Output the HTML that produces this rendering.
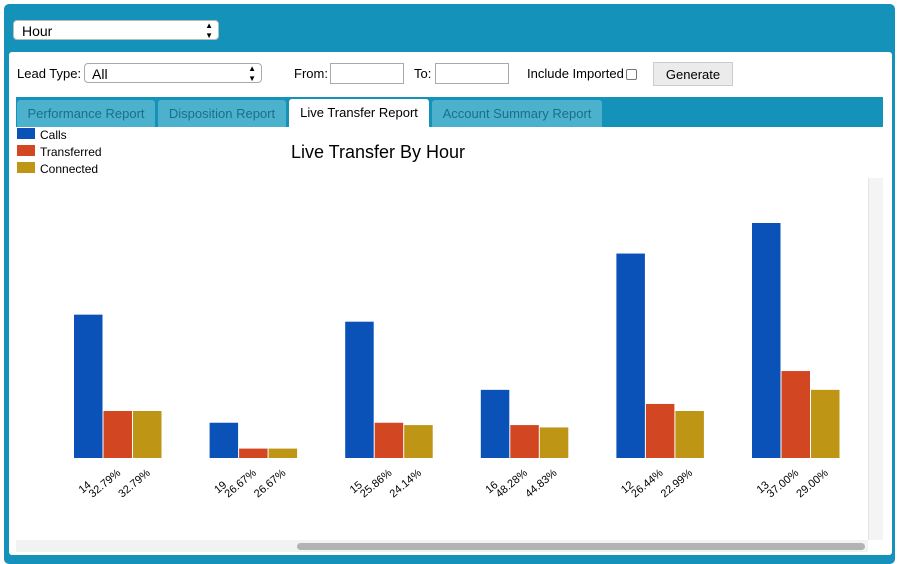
<!DOCTYPE html>
<html><head><meta charset="utf-8"><style>
body{margin:0;width:899px;height:555px;overflow:hidden;background:#fff;font-family:"Liberation Sans",Arial,sans-serif;font-size:13px;color:#000}
.abs{position:absolute}
</style></head><body>
<div class="abs" style="left:4px;top:4px;width:891px;height:560px;background:#1592ba;border-radius:5px"></div>
<div class="abs" style="left:13px;top:20px;width:206px;height:20px;background:#fff;border:1px solid #bbb;border-radius:4px;font-size:14px;line-height:20px;padding-left:8px;box-sizing:border-box">Hour<span style="position:absolute;right:5px;top:0;font-size:8px;line-height:10px">▲<br>▼</span></div>
<div class="abs" style="left:9px;top:52px;width:883px;height:503px;background:#fff;border-radius:3px"></div>
<div class="abs" style="left:17px;top:66px">Lead Type:</div>
<div class="abs" style="left:84px;top:63px;width:178px;height:20px;border:1px solid #aaa;border-radius:4px;font-size:14px;line-height:20px;padding-left:7px;box-sizing:border-box">All<span style="position:absolute;right:5px;top:0;font-size:8px;line-height:10px">▲<br>▼</span></div>
<div class="abs" style="left:294px;top:66px">From:</div>
<div class="abs" style="left:330px;top:63px;width:74px;height:21px;border:1px solid #aaa;box-sizing:border-box"></div>
<div class="abs" style="left:414px;top:66px">To:</div>
<div class="abs" style="left:435px;top:63px;width:74px;height:21px;border:1px solid #aaa;box-sizing:border-box"></div>
<div class="abs" style="left:527px;top:66px">Include Imported</div>
<div class="abs" style="left:626px;top:69px;width:9px;height:9px;border:1px solid #777;border-radius:2px"></div>
<div class="abs" style="left:653px;top:62px;width:80px;height:24px;background:#ebebeb;border:1px solid #ccc;box-sizing:border-box;text-align:center;line-height:23px">Generate</div>
<div class="abs" style="left:16px;top:97px;width:867px;height:30px;background:#1592ba"></div>
<div class="abs" style="left:17px;top:100px;width:138px;height:27px;background:#4cb1cc;color:#1a6f8c;text-align:center;line-height:27px;border-radius:3px 3px 0 0">Performance Report</div>
<div class="abs" style="left:158px;top:100px;width:128px;height:27px;background:#4cb1cc;color:#1a6f8c;text-align:center;line-height:27px;border-radius:3px 3px 0 0">Disposition Report</div>
<div class="abs" style="left:289px;top:99px;width:140px;height:29px;background:#fff;text-align:center;line-height:27px;border-radius:3px 3px 0 0">Live Transfer Report</div>
<div class="abs" style="left:432px;top:100px;width:170px;height:27px;background:#4cb1cc;color:#1a6f8c;text-align:center;line-height:27px;border-radius:3px 3px 0 0">Account Summary Report</div>
<div class="abs" style="left:868px;top:178px;width:14px;height:362px;background:#f4f4f4;border-left:1px solid #e4e4e4"></div>
<div class="abs" style="left:16px;top:540px;width:852px;height:12px;background:#f2f2f2"></div>
<div class="abs" style="left:297px;top:543px;width:568px;height:7px;background:#b3b3b3;border-radius:4px"></div>
<svg class="abs" style="left:0;top:0" width="899" height="555">
<g id="legend"></g>
<text x="378" y="158" text-anchor="middle" font-size="18">Live Transfer By Hour</text>
<g id="bars"></g>
</svg>
<script>
const hours=["14","19","15","16","12","13"];
const calls=[61,15,58,29,87,100];
const transferred=[20,4,15,14,23,37];
const connected=[20,4,14,13,20,29];
const transferredPct=["32.79%","26.67%","25.86%","48.28%","26.44%","37.00%"];
const connectedPct=["32.79%","26.67%","24.14%","44.83%","22.99%","29.00%"];
const seriesNames=["Calls","Transferred","Connected"];
const colors=["#0b52b8","#d24621","#bf9516"];
const NS="http://www.w3.org/2000/svg";
const base=458, pxPerUnit=235/100, x0=74, step=135.6, bw=29.5;
const y=v=>base-v*pxPerUnit;
const x=(i,s)=>x0+i*step+s*bw;
const lg=document.getElementById('legend');
seriesNames.forEach((n,i)=>{
 const r=document.createElementNS(NS,'rect');
 r.setAttribute('x',17);r.setAttribute('y',128+i*17);r.setAttribute('width',18);r.setAttribute('height',11);r.setAttribute('fill',colors[i]);
 
 
 lg.appendChild(r);
 const t=document.createElementNS(NS,'text');
 t.setAttribute('x',40);t.setAttribute('y',139+i*17);t.setAttribute('font-size',12);t.textContent=n;
 
 
 lg.appendChild(t);
});
const g=document.getElementById('bars');
const series=[calls,transferred,connected];
hours.forEach((h,i)=>{
 series.forEach((arr,s)=>{
  const r=document.createElementNS(NS,'rect');
  r.setAttribute('x',x(i,s));r.setAttribute('y',y(arr[i]));
  r.setAttribute('width',bw-1);r.setAttribute('height',base-y(arr[i]));
  r.setAttribute('fill',colors[s]);
  
  
  g.appendChild(r);
 });
 const labels=[h,transferredPct[i],connectedPct[i]];
 labels.forEach((l,s)=>{
  const cx=x(i,s)+bw/2+3, cy=s==0?486:474;
  const t=document.createElementNS(NS,'text');
  t.setAttribute('x',cx);t.setAttribute('y',cy);t.setAttribute('text-anchor','end');
  t.setAttribute('font-size',11);
  t.setAttribute('transform','rotate(-40 '+cx+' '+cy+')');
  t.textContent=l;
  
  
  g.appendChild(t);
 });
});
</script>
</body></html>
